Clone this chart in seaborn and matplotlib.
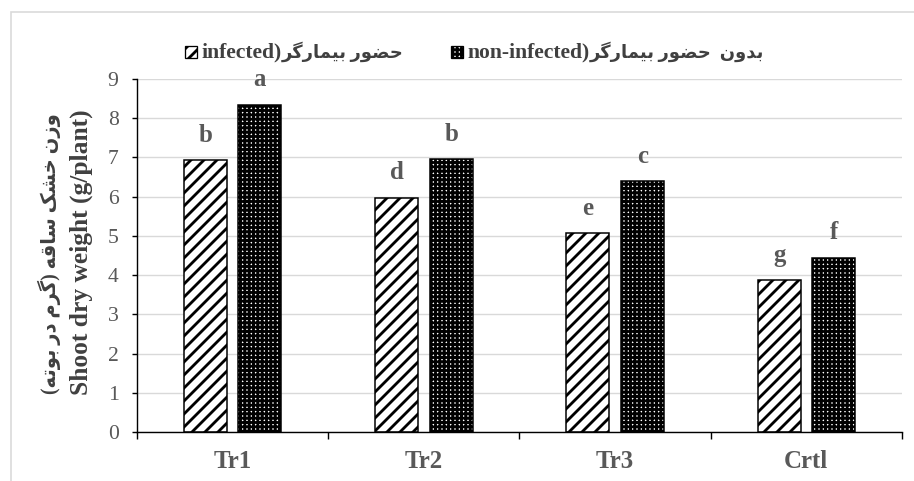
import matplotlib
matplotlib.use("Agg")
import matplotlib.pyplot as plt
from matplotlib.patches import Rectangle
from matplotlib.ticker import FixedLocator
from matplotlib.offsetbox import AnchoredOffsetbox, DrawingArea, HPacker, TextArea
import pandas as pd
import seaborn as sns

# ---- data -------------------------------------------------------------
treatments = ["Tr1", "Tr2", "Tr3", "Crtl"]
infected = [6.93, 5.97, 5.07, 3.87]
non_infected = [8.34, 6.96, 6.39, 4.44]
letters_infected = ["b", "d", "e", "g"]
letters_non_infected = ["a", "b", "c", "f"]
y_ticks = [0, 1, 2, 3, 4, 5, 6, 7, 8, 9]

ylabel_fa = "وزن خشک ساقه (گرم در بوته)"
ylabel_en = "Shoot dry weight (g/plant)"
legend_en = ["infected)", "non-infected)"]
legend_fa = ["حضور بیمارگر", "بدون  حضور بیمارگر"]

# ---- minimal Persian shaping (matplotlib has no complex text layout) ---
FORMS = {
    "ا": ("\ufe8d", "\ufe8e", None, None),
    "ب": ("\ufe8f", "\ufe90", "\ufe91", "\ufe92"),
    "ة": ("\ufe93", "\ufe94", None, None),
    "ت": ("\ufe95", "\ufe96", "\ufe97", "\ufe98"),
    "ح": ("\ufea1", "\ufea2", "\ufea3", "\ufea4"),
    "خ": ("\ufea5", "\ufea6", "\ufea7", "\ufea8"),
    "د": ("\ufea9", "\ufeaa", None, None),
    "ر": ("\ufead", "\ufeae", None, None),
    "ز": ("\ufeaf", "\ufeb0", None, None),
    "س": ("\ufeb1", "\ufeb2", "\ufeb3", "\ufeb4"),
    "ش": ("\ufeb5", "\ufeb6", "\ufeb7", "\ufeb8"),
    "ض": ("\ufebd", "\ufebe", "\ufebf", "\ufec0"),
    "ق": ("\ufed5", "\ufed6", "\ufed7", "\ufed8"),
    "م": ("\ufee1", "\ufee2", "\ufee3", "\ufee4"),
    "ن": ("\ufee5", "\ufee6", "\ufee7", "\ufee8"),
    "ه": ("\ufee9", "\ufeea", "\ufeeb", "\ufeec"),
    "و": ("\ufeed", "\ufeee", None, None),
    "\u06a9": ("\ufb8e", "\ufb8f", "\ufb90", "\ufb91"),  # keheh
    "\u06af": ("\ufb92", "\ufb93", "\ufb94", "\ufb95"),  # gaf
    "\u06cc": ("\ufbfc", "\ufbfd", "\ufbfe", "\ufbff"),  # farsi yeh
}
NORMALISE = {"\u064a": "\u06cc", "\u0643": "\u06a9"}
MIRROR = {"(": ")", ")": "("}


def rtl(text):
    """Return the visual (left-to-right) glyph string of a Persian phrase."""
    text = "".join(NORMALISE.get(c, c) for c in text)
    out = []
    for i, ch in enumerate(text):
        if ch not in FORMS:
            out.append(MIRROR.get(ch, ch))
            continue
        prev = text[i - 1] if i > 0 else ""
        nxt = text[i + 1] if i + 1 < len(text) else ""
        iso, fin, ini, med = FORMS[ch]
        join_prev = prev in FORMS and FORMS[prev][2] is not None
        join_next = ini is not None and nxt in FORMS
        if join_prev and join_next:
            out.append(med)
        elif join_prev:
            out.append(fin)
        elif join_next:
            out.append(ini)
        else:
            out.append(iso)
    return "".join(reversed(out))


# ---- style ------------------------------------------------------------
sns.set_style("white")
plt.rcParams["font.family"] = ["Liberation Serif", "DejaVu Sans"]
plt.rcParams["hatch.linewidth"] = 2.6

GRAY = "#595959"
DARK = "#404040"
DPI = 78
W, H = 915, 481
HATCHES = ["//", "+++"]

fig = plt.figure(figsize=(W / DPI, H / DPI), dpi=DPI)
fig.patch.set_facecolor("white")
ax = fig.add_axes([137 / W, 49 / H, 765 / W, 353 / H])

df = pd.DataFrame({
    "treatment": treatments * 2,
    "condition": ["infected"] * len(treatments) + ["non-infected"] * len(treatments),
    "weight": infected + non_infected,
})

sns.barplot(
    data=df, x="treatment", y="weight", hue="condition",
    order=treatments, hue_order=["infected", "non-infected"],
    palette=["white", "white"], saturation=1, edgecolor="black",
    linewidth=1.4, width=0.57, gap=0.21, errorbar=None, legend=False,
    ax=ax, zorder=3,
)

for cont, hatch, labels in zip(ax.containers, HATCHES,
                               [letters_infected, letters_non_infected]):
    for bar, lab in zip(cont.patches, labels):
        bar.set_hatch(hatch)
        ax.annotate(lab, (bar.get_x() + bar.get_width() / 2, bar.get_height()),
                    xytext=(0, 17), textcoords="offset points",
                    ha="center", va="baseline", fontsize=23,
                    fontweight="bold", color=GRAY)

# axes
ax.set_ylim(0, 9)
ax.set_xlim(-0.5, len(treatments) - 0.5)
ax.set_yticks(y_ticks)
ax.yaxis.grid(True, color="#d9d9d9", lw=1.3)
ax.xaxis.grid(False)
ax.set_axisbelow(True)
for side in ["top", "right"]:
    ax.spines[side].set_visible(False)
for side in ["left", "bottom"]:
    ax.spines[side].set_color("black")
    ax.spines[side].set_linewidth(1.3)
    ax.spines[side].set_zorder(4)

ax.tick_params(axis="y", which="major", direction="out", length=5, width=1.3,
               color="black", labelcolor=GRAY, labelsize=20, pad=12, left=True)
ax.tick_params(axis="x", which="major", length=0, labelcolor=GRAY,
               labelsize=23, pad=17)
for t in ax.get_xticklabels():
    t.set_fontweight("bold")
ax.xaxis.set_minor_locator(FixedLocator([i - 0.5 for i in range(len(treatments) + 1)]))
ax.tick_params(axis="x", which="minor", direction="out", length=6, width=1.3,
               color="black", bottom=True)
ax.set_xlabel("")
ax.set_ylabel("")

# two-line axis title (Persian above English)
fig.text(49 / W, 1 - 254 / H, rtl(ylabel_fa), rotation=90, ha="center",
         va="center", fontsize=18, fontweight="bold", color=DARK)
fig.text(81 / W, 1 - 252 / H, ylabel_en, rotation=90, ha="center",
         va="center", fontsize=23.5, fontweight="bold", color=DARK)


# legend row: hatched swatch + English part + Persian part
def legend_entry(hatch, latin, persian):
    icon = DrawingArea(11, 11, 0, 0)
    icon.add_artist(Rectangle((0, 0), 11, 11, facecolor="white",
                              edgecolor="black", hatch=hatch, lw=1.2))
    words = HPacker(children=[
        TextArea(latin, textprops=dict(size=20, weight="bold", color=DARK)),
        TextArea(rtl(persian), textprops=dict(size=16.5, weight="bold", color=DARK)),
    ], align="baseline", pad=0, sep=0)
    return HPacker(children=[icon, words], align="center", pad=0, sep=4)


row = HPacker(children=[legend_entry(h, e, f)
                        for h, e, f in zip(HATCHES, legend_en, legend_fa)],
              align="center", pad=0, sep=44)
fig.add_artist(AnchoredOffsetbox(loc="center left", child=row, pad=0,
                                 borderpad=0, frameon=False,
                                 bbox_to_anchor=(185 / W, 1 - 52 / H),
                                 bbox_transform=fig.transFigure))

# chart-area border
fig.patches.append(Rectangle((11 / W, -0.05), 1.2, 1.05 - 12 / H,
                             transform=fig.transFigure, fill=False,
                             ec="#d9d9d9", lw=1.5))

fig.savefig("out.png", dpi=DPI)
